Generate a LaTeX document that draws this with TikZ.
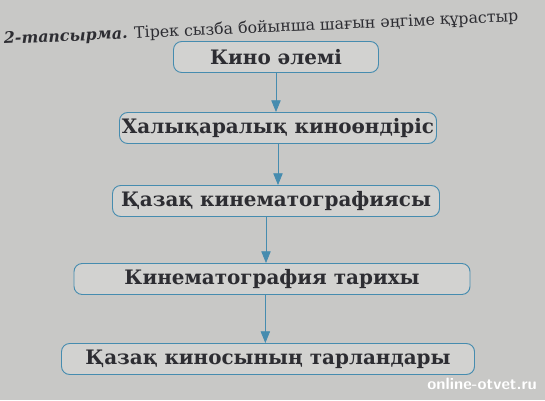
\documentclass[tikz,border=0pt]{standalone}
\usepackage{fontspec}
\setmainfont{DejaVu Serif}
\usetikzlibrary{arrows.meta}
\definecolor{pagegrey}{RGB}{200,200,198}
\definecolor{boxfill}{RGB}{210,210,208}
\definecolor{edgeblue}{RGB}{70,140,175}
\definecolor{inkgrey}{RGB}{45,45,50}
\tikzset{
  stage/.style={draw=edgeblue, line width=0.8pt, rounded corners=7pt, fill=boxfill,
    minimum height=0.93cm, inner sep=0pt, text=inkgrey,
    font=\bfseries\fontsize{17}{19}\selectfont},
  flow/.style={draw=edgeblue, line width=0.7pt, fill=edgeblue,
    -{Triangle[width=8pt,length=10pt]}},
}
\begin{document}
\begin{tikzpicture}[x=0.03cm,y=-0.03cm]
  \fill [pagegrey] (0,0) rectangle (545,400);
  \clip (0,0) rectangle (545,400);

  % task line
  \node [anchor=base west, rotate=2.5, inner sep=0pt, text=inkgrey,
    font=\fontsize{13.5}{16}\selectfont] (task) at (4,44)
    {\textbf{\textit{2-тапсырма.}} Тірек сызба бойынша шағын әңгіме құрастыр};

  % scheme
  \node [stage, minimum width=6.15cm] (world) at (276,57) {Кино әлемі};
  \node [stage, minimum width=9.51cm] (intl) at (278,128) {Халықаралық киноөндіріс};
  \node [stage, minimum width=9.81cm] (kazcin) at (276,201) {Қазақ кинематографиясы};
  \node [stage, minimum width=11.88cm] (history) at (272,279) {Кинематография тарихы};
  \node [stage, minimum width=12.39cm] (stars) at (268,359) {Қазақ киносының тарландары};

  \draw [flow] (world.south) -- (world.south |- intl.north);
  \draw [flow] (intl.south) -- (intl.south |- kazcin.north);
  \draw [flow] ([xshift=-0.3cm]kazcin.south) -- ([xshift=-0.3cm]kazcin.south |- history.north);
  \draw [flow] ([xshift=-0.2cm]history.south) -- ([xshift=-0.2cm]history.south |- stars.north);

  \node [anchor=east, text=white, font=\sffamily\bfseries\fontsize{14}{16}\selectfont]
    (mark) at (541,384) {online-otvet.ru};
\end{tikzpicture}
\end{document}
